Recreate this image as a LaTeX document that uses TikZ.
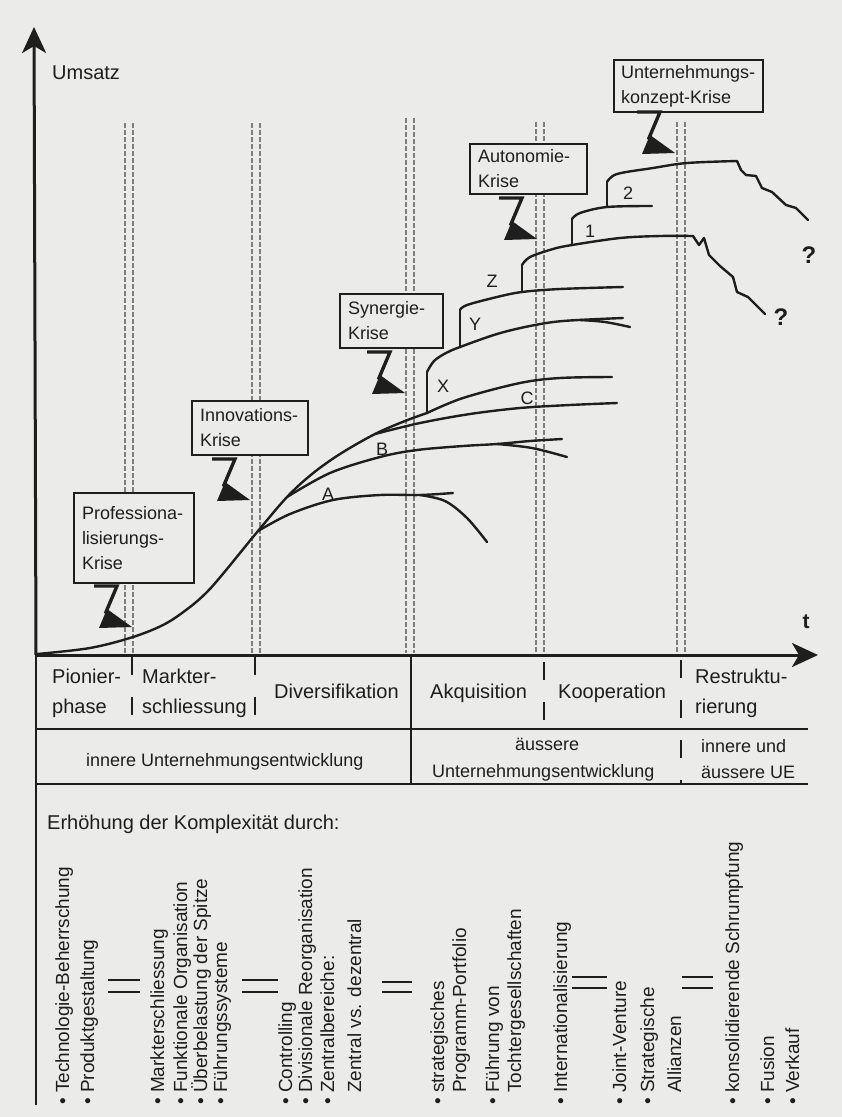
\documentclass[tikz,border=0pt]{standalone}
\usepackage{fontspec}
\setmainfont{Liberation Sans}
\usetikzlibrary{arrows.meta}

\definecolor{paper}{RGB}{235,235,233}
\definecolor{ink}{RGB}{30,30,30}
\definecolor{guide}{RGB}{125,125,125}

\tikzset{
  axis/.style={draw=ink, line width=3pt, -{Stealth[length=26pt,width=24pt,inset=7pt]}},
  growth/.style={draw=ink, line width=2.4pt, line cap=round, line join=round},
  guideline/.style={draw=guide, line width=1.1pt, dash pattern=on 5pt off 2pt},
  tablerule/.style={draw=ink, line width=2.6pt},
  septick/.style={draw=ink, line width=1.8pt, dash pattern=on 18pt off 22pt},
  gleich/.style={draw=ink, line width=2pt},
  crisisbox/.style={draw=ink, line width=2pt, fill=paper, text=ink, anchor=north west, align=left, inner xsep=8pt, inner ysep=0pt, font={\fontsize{18}{25}\selectfont\hyphenpenalty=10000}},
  phasetext/.style={anchor=base west, inner sep=0pt, text=ink, font=\fontsize{20}{24}\selectfont},
  develtext/.style={anchor=base west, inner sep=0pt, text=ink, font=\fontsize{18}{22}\selectfont},
  measure/.style={rotate=90, anchor=base west, inner sep=0pt, text=ink, font=\fontsize{19}{22}\selectfont},
  curvelabel/.style={anchor=base, inner sep=0pt, text=ink, font=\fontsize{18}{20}\selectfont},
}

% lightning arrow below a crisis box, #1 = tip
\newcommand{\krisenblitz}[1]{%
  \begin{scope}[shift={(#1)}]
    \draw[draw=ink, line width=3.4pt, line join=miter] (-38,-41) -- (-15,-41) -- (-26,-15) -- (-20,-12);
    \fill[ink] (-25,-18) -- (0,0) -- (-33,1) -- cycle;
  \end{scope}}
\newcommand{\pkt}{\textbullet\ }

\begin{document}
\begin{tikzpicture}[x=1pt, y=-1pt]
\fill[paper] (0,0) rectangle (842,1117);
\useasboundingbox (0,0) rectangle (842,1117);

\coordinate (origin) at (36,655);
\coordinate (ytop) at (34,27);
\coordinate (xend) at (818,655);
\coordinate (ybottom) at (36,1105);

% crisis guide lines
\foreach \gx/\gy in {129/123, 256/123, 410/118, 540/122, 681/122}{
  \draw[guideline] (\gx-4,\gy) -- (\gx-4,653);
  \draw[guideline] (\gx+4,\gy) -- (\gx+4,653);
}

\draw[ink, line width=2.4pt] (ybottom) -- (origin);
\draw[axis] (origin) -- (ytop);
\draw[axis] (origin) -- (xend);
\node[phasetext] (umsatz) at (52,79) {Umsatz};
\node[phasetext, anchor=base, font=\fontsize{21}{24}\selectfont\bfseries] (zeit) at (806,628) {t};

% growth curves
\draw[growth] plot[smooth, tension=0.55] coordinates {(37,654) (90,648) (133,637) (165,624) (190,607) (207,592) (222,575) (240,553) (258,531) (287,497) (312,474) (340,454) (375,434) (405,421) (427,413)};
\draw[growth] plot[smooth, tension=0.55] coordinates {(258,531) (290,514) (333,500) (380,495) (420,495) (453,493)};
\draw[growth] plot[smooth, tension=0.55] coordinates {(420,495) (445,501) (467,518) (487,542)};
\draw[growth] plot[smooth, tension=0.55] coordinates {(287,497) (330,473) (380,457) (417,450) (463,446) (497,444) (530,441) (562,439)};
\draw[growth] plot[smooth, tension=0.55] coordinates {(497,444) (532,448) (567,457)};
\draw[growth] plot[smooth, tension=0.55] coordinates {(375,434) (420,423) (470,414) (520,408) (570,405) (617,403)};
\draw[growth] plot[smooth, tension=0.55] coordinates {(427,413) (463,398) (520,383) (560,378) (612,377)};

\draw[growth] (427,413) -- (427,372);
\draw[growth] plot[smooth, tension=0.55] coordinates {(427,372) (434,361) (446,353) (460,347) (497,334) (530,326) (563,321) (623,318)};
\draw[growth] plot[smooth, tension=0.55] coordinates {(580,320) (605,322) (630,327)};
\draw[growth] (460,347) -- (460,310);
\draw[growth] plot[smooth, tension=0.55] coordinates {(460,310) (467,305) (497,297) (522,292) (560,289) (623,287)};
\draw[growth] (522,292) -- (522,265);
\draw[growth] plot[smooth, tension=0.55] coordinates {(522,265) (530,257) (553,249) (572,245) (620,238) (660,236) (693,236)}
  -- (699,245) -- (704,238) -- (709,255) -- (720,266) -- (733,277) -- (737,292) -- (748,297) -- (765,314);
\draw[growth] (572,245) -- (572,219);
\draw[growth] plot[smooth, tension=0.55] coordinates {(572,219) (580,213) (607,207) (652,206)};
\draw[growth] (607,207) -- (607,182);
\draw[growth] plot[smooth, tension=0.55] coordinates {(607,182) (617,174) (653,168) (687,163) (737,161)}
  -- (741,170) -- (746,175) -- (756,176) -- (762,188) -- (772,192) -- (786,205) -- (796,208) -- (808,220);

\node[curvelabel] (la) at (328,500) {A};
\node[curvelabel] (lb) at (382,455) {B};
\node[curvelabel] (lc) at (527,404) {C};
\node[curvelabel] (lx) at (443,392) {X};
\node[curvelabel] (ly) at (475,330) {Y};
\node[curvelabel] (lz) at (492,287) {Z};
\node[curvelabel] (l1) at (590,237) {1};
\node[curvelabel] (l2) at (628,199) {2};
\node[curvelabel, font=\fontsize{24}{26}\selectfont\bfseries] (frage1) at (809,263) {?};
\node[curvelabel, font=\fontsize{24}{26}\selectfont\bfseries] (frage2) at (781,325) {?};

% crises
\node[crisisbox, text width=104pt, minimum height=90pt] (kprof) at (73,492) {Professiona-\\lisierungs-\\Krise};
\node[crisisbox, text width=100pt, minimum height=54pt] (kinno) at (191,400) {Innovations-\\Krise};
\node[crisisbox, text width=87pt, minimum height=54pt] (ksyn) at (339,293) {Synergie-\\Krise};
\node[crisisbox, text width=101pt, minimum height=50pt] (kauto) at (469,143) {Autonomie-\\Krise};
\node[crisisbox, text width=135pt, minimum height=52pt, inner xsep=7pt] (kkonz) at (613,59) {Unternehmungs-\\konzept-Krise};

\coordinate (blitzprof) at (132,627);
\coordinate (blitzinno) at (250,500);
\coordinate (blitzsyn) at (405,393);
\coordinate (blitzauto) at (537,239);
\coordinate (blitzkonz) at (675,153);
\krisenblitz{blitzprof}
\krisenblitz{blitzinno}
\krisenblitz{blitzsyn}
\krisenblitz{blitzauto}
\krisenblitz{blitzkonz}

% phase table
\draw[tablerule] (36,729) -- (808,729);
\draw[tablerule] (36,784) -- (808,784);
\draw[ink, line width=2pt] (411,655) -- (411,784);
\draw[septick] (132,657) -- (132,722);
\draw[septick] (255,657) -- (255,722);
\draw[septick] (544,662) -- (544,722);
\draw[septick] (681,660) -- (681,784);

\node[phasetext] (pionier1) at (52,683) {Pionier-};
\node[phasetext] (pionier2) at (52,713) {phase};
\node[phasetext] (markt1) at (142,683) {Markter-};
\node[phasetext] (markt2) at (142,713) {schliessung};
\node[phasetext] (divers) at (274,698) {Diversifikation};
\node[phasetext] (akqui) at (430,698) {Akquisition};
\node[phasetext] (koop) at (558,698) {Kooperation};
\node[phasetext] (restr1) at (695,683) {Restruktu-};
\node[phasetext] (restr2) at (695,713) {rierung};

\node[develtext] (innen) at (86,766) {innere Unternehmungsentwicklung};
\node[develtext] (aussen1) at (515,750) {äussere};
\node[develtext] (aussen2) at (432,777) {Unternehmungsentwicklung};
\node[develtext] (beide1) at (701,752) {innere und};
\node[develtext] (beide2) at (701,778) {äussere UE};

\node[phasetext] (komplex) at (47,829) {Erhöhung der Komplexität durch:};

% measures, rotated
\node[measure] (m1) at (69,1105) {\pkt Technologie-Beherrschung};
\node[measure] (m2) at (94,1105) {\pkt Produktgestaltung};
\node[measure] (m3) at (164,1105) {\pkt Markterschliessung};
\node[measure] (m4) at (187,1105) {\pkt Funktionale Organisation};
\node[measure] (m5) at (207,1105) {\pkt Überbelastung der Spitze};
\node[measure] (m6) at (227,1105) {\pkt Führungssysteme};
\node[measure] (m7) at (292,1105) {\pkt Controlling};
\node[measure] (m8) at (312,1105) {\pkt Divisionale Reorganisation};
\node[measure] (m9) at (334,1105) {\pkt Zentralbereiche:};
\node[measure] (m10) at (361,1093) {Zentral vs. dezentral};
\node[measure] (m11) at (444,1105) {\pkt strategisches};
\node[measure] (m12) at (466,1093) {Programm-Portfolio};
\node[measure] (m13) at (499,1105) {\pkt Führung von};
\node[measure] (m14) at (521,1093) {Tochtergesellschaften};
\node[measure] (m15) at (567,1105) {\pkt Internationalisierung};
\node[measure] (m16) at (626,1105) {\pkt Joint-Venture};
\node[measure] (m17) at (654,1105) {\pkt Strategische};
\node[measure] (m18) at (681,1093) {Allianzen};
\node[measure] (m19) at (739,1105) {\pkt konsolidierende Schrumpfung};
\node[measure] (m20) at (774,1105) {\pkt Fusion};
\node[measure] (m21) at (799,1105) {\pkt Verkauf};

\draw[gleich] (108,980) -- (140,980) (108,992) -- (140,992);
\draw[gleich] (242,980) -- (278,980) (242,992) -- (278,992);
\draw[gleich] (382,982) -- (412,982) (382,992) -- (412,992);
\draw[gleich] (572,977) -- (607,977) (572,988) -- (607,988);
\draw[gleich] (682,977) -- (713,977) (682,988) -- (713,988);

\end{tikzpicture}
\end{document}
